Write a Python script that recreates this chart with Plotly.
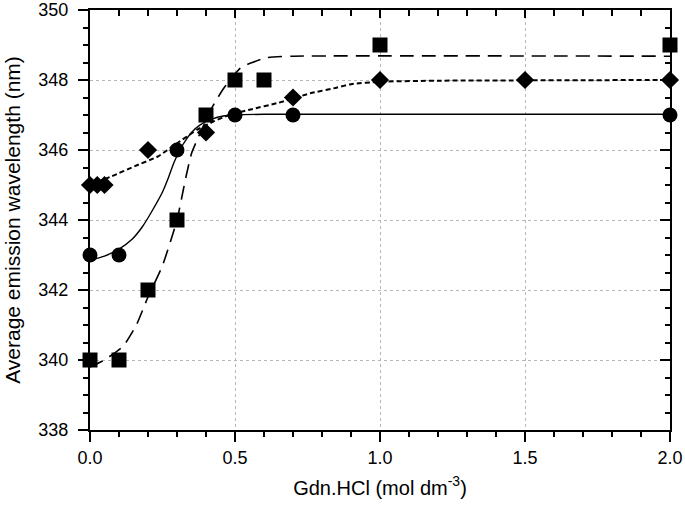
import plotly.graph_objects as go

# ---- data ----
sq_x = [0.0, 0.1, 0.2, 0.3, 0.4, 0.5, 0.6, 1.0, 2.0]
sq_y = [340, 340, 342, 344, 347, 348, 348, 349, 349]

ci_x = [0.0, 0.1, 0.3, 0.5, 0.7, 2.0]
ci_y = [343, 343, 346, 347, 347, 347]

di_x = [0.0, 0.025, 0.05, 0.2, 0.4, 0.7, 1.0, 1.5, 2.0]
di_y = [345, 345, 345, 346, 346.5, 347.5, 348, 348, 348]

# fitted curves
fit_sq_x = [0.0, 0.05, 0.115, 0.16, 0.2, 0.25, 0.3, 0.33, 0.35, 0.37, 0.42, 0.46, 0.52, 0.56, 0.61, 0.7, 2.0]
fit_sq_y = [339.8, 340.0, 340.4, 341.0, 341.8, 342.7, 344.0, 345.2, 345.9, 346.3, 347.2, 347.75, 348.35, 348.5, 348.64, 348.68, 348.68]

fit_ci_x = [0.0, 0.05, 0.1, 0.145, 0.18, 0.21, 0.25, 0.27, 0.29, 0.32, 0.35, 0.38, 0.42, 0.46, 0.5, 0.6, 2.0]
fit_ci_y = [342.85, 342.97, 343.17, 343.45, 343.8, 344.2, 344.8, 345.2, 345.65, 346.15, 346.5, 346.72, 346.88, 346.97, 347.0, 347.02, 347.02]

fit_di_x = [0.0, 0.075, 0.155, 0.235, 0.31, 0.37, 0.43, 0.48, 0.55, 0.65, 0.76, 0.85, 0.9, 1.0, 1.2, 2.0]
fit_di_y = [345.0, 345.25, 345.54, 345.82, 346.25, 346.58, 346.83, 347.0, 347.15, 347.35, 347.62, 347.78, 347.88, 347.95, 347.98, 348.0]

x_ticks = [0.0, 0.5, 1.0, 1.5, 2.0]
x_ticklabels = ["0.0", "0.5", "1.0", "1.5", "2.0"]
y_ticks = [338, 340, 342, 344, 346, 348, 350]

FONT = "Liberation Sans, Arial, sans-serif"

fig = go.Figure()

# fitted lines
fig.add_trace(go.Scatter(x=fit_sq_x, y=fit_sq_y, mode="lines",
                         line=dict(color="black", width=1.6, dash="14px,8px", shape="spline", smoothing=0.5),
                         showlegend=False, hoverinfo="skip"))
fig.add_trace(go.Scatter(x=fit_ci_x, y=fit_ci_y, mode="lines",
                         line=dict(color="black", width=1.4, shape="spline", smoothing=0.5),
                         showlegend=False, hoverinfo="skip"))
fig.add_trace(go.Scatter(x=fit_di_x, y=fit_di_y, mode="lines",
                         line=dict(color="black", width=2, dash="5px,3px", shape="spline", smoothing=0.5),
                         showlegend=False, hoverinfo="skip"))

# markers
fig.add_trace(go.Scatter(x=sq_x, y=sq_y, mode="markers", cliponaxis=False,
                         marker=dict(symbol="square", size=15, color="black"), showlegend=False))
fig.add_trace(go.Scatter(x=ci_x, y=ci_y, mode="markers", cliponaxis=False,
                         marker=dict(symbol="circle", size=15, color="black"), showlegend=False))
fig.add_trace(go.Scatter(x=di_x, y=di_y, mode="markers", cliponaxis=False,
                         marker=dict(symbol="diamond", size=14, color="black"), showlegend=False))

# invisible trace for mirrored axes
fig.add_trace(go.Scatter(x=[0, 2], y=[338, 350], xaxis="x2", yaxis="y2", mode="markers",
                         marker=dict(opacity=0), showlegend=False, hoverinfo="skip"))

fig.update_layout(
    width=685, height=508,
    margin=dict(l=90, r=15, t=10, b=78),
    paper_bgcolor="white", plot_bgcolor="white",
    font=dict(family=FONT, color="black"),
    xaxis=dict(range=[0, 2.0], tickvals=x_ticks, ticktext=x_ticklabels, automargin=False,
               ticks="outside", ticklen=10, tickwidth=1.5, tickcolor="black",
               showline=True, linewidth=2, linecolor="black",
               showgrid=True, gridcolor="#b8b8b8", griddash="dot", gridwidth=1,
               minor=dict(dtick=0.1, ticks="outside", ticklen=5, tickwidth=1.5, tickcolor="black", showgrid=False),
               tickfont=dict(size=18), zeroline=False, ticklabeloverflow="allow",
               title=dict(text="Gdn.HCl (mol dm<sup>-3</sup>)", font=dict(size=20), standoff=14)),
    yaxis=dict(range=[338, 350], tickvals=y_ticks, automargin=False,
               ticks="outside", ticklen=10, tickwidth=1.5, tickcolor="black",
               showline=True, linewidth=2, linecolor="black",
               showgrid=True, gridcolor="#b8b8b8", griddash="dot", gridwidth=1,
               minor=dict(dtick=0.5, ticks="outside", ticklen=5, tickwidth=1.5, tickcolor="black", showgrid=False),
               tickfont=dict(size=18), zeroline=False, ticklabelstandoff=6, ticklabeloverflow="allow",
               title=dict(text="Average emission wavelength (nm)", font=dict(size=21), standoff=12)),
    xaxis2=dict(range=[0, 2.0], overlaying="x", side="top", tickvals=x_ticks, automargin=False,
                ticks="inside", ticklen=8, tickwidth=1.5, tickcolor="black",
                showline=True, linewidth=2, linecolor="black", showticklabels=False,
                showgrid=False, zeroline=False,
                minor=dict(dtick=0.1, ticks="inside", ticklen=6, tickwidth=1.5, tickcolor="black", showgrid=False)),
    yaxis2=dict(range=[338, 350], overlaying="y", side="right", tickvals=y_ticks, automargin=False,
                ticks="inside", ticklen=10, tickwidth=1.5, tickcolor="black",
                showline=True, linewidth=2, linecolor="black", showticklabels=False,
                showgrid=False, zeroline=False,
                minor=dict(dtick=0.5, ticks="inside", ticklen=5, tickwidth=1.5, tickcolor="black", showgrid=False)),
)

fig.write_html("out.html", config={"displayModeBar": False},
               post_script="document.body.style.margin='0';document.body.style.overflow='hidden';")
